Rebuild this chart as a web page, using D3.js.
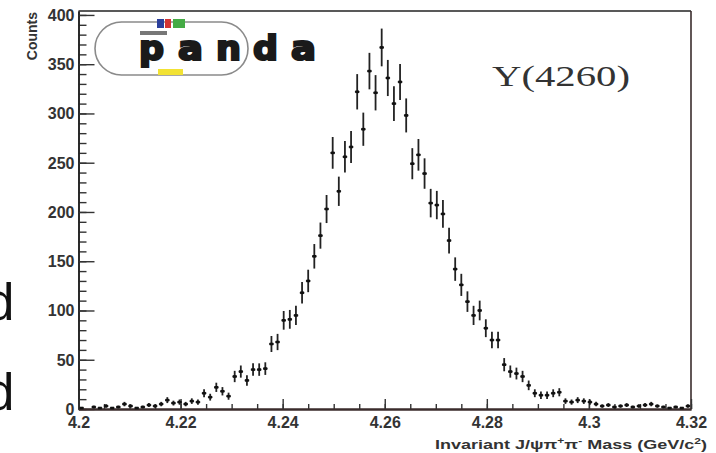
<!DOCTYPE html>
<html>
<head>
<meta charset="utf-8">
<script src="https://cdn.jsdelivr.net/npm/d3@7"></script>
<style>
  html, body { margin: 0; padding: 0; background: #fff; }
  svg { display: block; }
</style>
</head>
<body>
<svg id="chart" width="716" height="453"></svg>
<script>
// ---- data (histogram: 100 bins from 4.2 to 4.32 GeV/c^2) ----
const massMin = 4.2;
const massMax = 4.32;
const nBins = 100;
const counts = [
  1, 0, 2, 1, 3, 1, 2, 5, 3, 1, 2, 4, 3, 5, 9, 6, 7, 5, 8, 7,
  16, 12, 22, 18, 13, 33, 38, 29, 40, 40, 41, 66, 68, 90, 91, 95,
  118, 130, 155, 176, 203, 260, 221, 256, 266, 322, 284, 343, 321, 367, 336, 310, 332, 298,
  249, 258, 239, 209, 207, 198, 171, 142, 126, 109, 95, 100, 82, 70, 70, 45, 38, 36, 33, 24, 16, 14, 14, 16, 17,
  8, 7, 9, 8, 7, 5, 3, 4, 2, 3, 4, 2, 3, 4, 5, 3, 2, 1, 2, 1, 3
];
const xMajorTicks = [4.2, 4.22, 4.24, 4.26, 4.28, 4.3, 4.32];
const xTickLabels = ["4.2", "4.22", "4.24", "4.26", "4.28", "4.3", "4.32"];
const yMajorTicks = [0, 50, 100, 150, 200, 250, 300, 350, 400];
const yMax = 404;
const logoLetters = ["p", "a", "n", "d", "a"];

const svg = d3.select("#chart");
const pL = 78.5, pR = 691, pT = 11, pB = 409;

const x = d3.scaleLinear().domain([massMin, massMax]).range([pL, pR]);
const y = d3.scaleLinear().domain([0, yMax]).range([pB, pT]);

const binW = (massMax - massMin) / nBins;
const bins = counts.map((c, i) => ({
  lo: massMin + i * binW,
  hi: massMin + (i + 1) * binW,
  mid: massMin + (i + 0.5) * binW,
  n: c,
  err: Math.sqrt(c)
}));

// ---- slide residue on the left ("d" letters) ----
svg.selectAll("text.slide").data([320, 410]).enter().append("text")
  .attr("class", "slide")
  .attr("x", -14).attr("y", d => d)
  .attr("font-family", "Liberation Sans, Arial, sans-serif")
  .attr("font-size", 51)
  .attr("fill", "#111")
  .text("d");

// ---- frame ----
svg.append("line").attr("x1", pL).attr("x2", pR).attr("y1", pT).attr("y2", pT)
  .attr("stroke", "#222").attr("stroke-width", 1.6);
svg.append("line").attr("x1", pR).attr("x2", pR).attr("y1", pT).attr("y2", pB)
  .attr("stroke", "#3a2c2c").attr("stroke-width", 1.6);

// ---- y axis ----
const yMinor = d3.range(0, 401, 10);
const gyMinor = svg.append("g").attr("transform", `translate(${pL},0)`)
  .call(d3.axisLeft(y).tickValues(yMinor).tickSize(-8).tickSizeOuter(0).tickFormat(""));
const gy = svg.append("g").attr("transform", `translate(${pL},0)`)
  .call(d3.axisLeft(y).tickValues(yMajorTicks).tickSize(-16).tickSizeOuter(0).tickPadding(4));
[gyMinor, gy].forEach(g => {
  g.select(".domain").attr("stroke", "#222").attr("stroke-width", 1.6);
  g.selectAll(".tick line").attr("stroke", "#333").attr("stroke-width", 1.4);
});
gy.selectAll(".tick text")
  .attr("font-family", "Liberation Sans, Arial, sans-serif")
  .attr("font-weight", "bold").attr("font-size", 16).attr("fill", "#333")
  .attr("dy", "0.34em");

// ---- x axis ----
const xMinor = d3.range(0, 25).map(k => massMin + k * 0.005);
const gxMinor = svg.append("g").attr("transform", `translate(0,${pB})`)
  .call(d3.axisBottom(x).tickValues(xMinor).tickSize(-5).tickSizeOuter(0).tickFormat(""));
const gx = svg.append("g").attr("transform", `translate(0,${pB})`)
  .call(d3.axisBottom(x).tickValues(xMajorTicks).tickSize(-10).tickSizeOuter(0).tickPadding(8)
    .tickFormat((d, i) => xTickLabels[i]));
[gxMinor, gx].forEach(g => {
  g.select(".domain").attr("stroke", "#3a2c2c").attr("stroke-width", 1.8);
  g.selectAll(".tick line").attr("stroke", "#333").attr("stroke-width", 1.4);
});
gx.selectAll(".tick text")
  .attr("font-family", "Liberation Sans, Arial, sans-serif")
  .attr("font-weight", "bold").attr("font-size", 16).attr("fill", "#333")
  .attr("dy", "0.71em");

// ---- axis titles ----
svg.append("text")
  .attr("transform", `translate(37,12) rotate(-90)`)
  .attr("text-anchor", "end")
  .attr("font-family", "Liberation Sans, Arial, sans-serif")
  .attr("font-weight", "bold").attr("font-size", 14).attr("fill", "#333")
  .text("Counts");

const xt = svg.append("text")
  .attr("font-family", "Liberation Sans, Arial, sans-serif")
  .attr("font-weight", "bold").attr("font-size", 13.5).attr("fill", "#333");
xt.append("tspan").text("Invariant J/ψπ");
xt.append("tspan").attr("font-size", 9).attr("dy", -5).text("+");
xt.append("tspan").attr("dy", 5).text("π");
xt.append("tspan").attr("font-size", 9).attr("dy", -5).text("-");
xt.append("tspan").attr("dy", 5).text(" Mass (GeV/c");
xt.append("tspan").attr("font-size", 9).attr("dy", -5).text("2");
xt.append("tspan").attr("dy", 5).text(")");
{
  const w = xt.node().getComputedTextLength();
  const target = 707 - 435;
  const s = target / w;
  xt.attr("transform", `translate(435,449) scale(${s},1)`);
}

// ---- data points with error bars ----
const pts = svg.append("g").selectAll("g.pt").data(bins.filter(b => b.n > 0)).enter()
  .append("g").attr("class", "pt");
pts.append("line")
  .attr("x1", d => x(d.mid)).attr("x2", d => x(d.mid))
  .attr("y1", d => y(d.n - d.err)).attr("y2", d => y(d.n + d.err))
  .attr("stroke", "#222").attr("stroke-width", 1.8);
pts.append("line")
  .attr("x1", d => x(d.lo) + 0.8).attr("x2", d => x(d.hi) - 0.8)
  .attr("y1", d => y(d.n)).attr("y2", d => y(d.n))
  .attr("stroke", "#222").attr("stroke-width", 1.7);
pts.append("rect")
  .attr("x", d => x(d.mid) - 1.8).attr("y", d => y(d.n) - 1.3)
  .attr("width", 3.6).attr("height", 2.6)
  .attr("fill", "#111");

// ---- PANDA logo ----
const logo = svg.append("g");
logo.append("rect").attr("x", 95).attr("y", 22).attr("width", 153).attr("height", 53)
  .attr("rx", 26.5).attr("ry", 26.5)
  .attr("fill", "none").attr("stroke", "#8a8a8a").attr("stroke-width", 1.6);
logo.append("rect").attr("x", 140).attr("y", 31).attr("width", 27).attr("height", 4).attr("fill", "#777");
logo.append("rect").attr("x", 157).attr("y", 19).attr("width", 7).attr("height", 9).attr("fill", "#2b3f9c");
logo.append("rect").attr("x", 165).attr("y", 19).attr("width", 6).attr("height", 9).attr("fill", "#d23434");
logo.append("rect").attr("x", 173).attr("y", 19).attr("width", 12).attr("height", 9).attr("fill", "#45ab45");
logo.append("rect").attr("x", 158).attr("y", 69).attr("width", 25).attr("height", 6).attr("fill", "#f2e234");
const letterX = [139, 178, 216, 253, 291];
logo.selectAll("text.lg").data(logoLetters).enter().append("text")
  .attr("class", "lg")
  .attr("x", (d, i) => letterX[i]).attr("y", 60)
  .attr("font-family", "DejaVu Sans, sans-serif").attr("font-weight", "bold")
  .attr("font-size", 33).attr("fill", "#1a1a1a")
  .attr("stroke", "#1a1a1a").attr("stroke-width", 2.2).attr("stroke-linejoin", "miter")
  .attr("textLength", 25).attr("lengthAdjust", "spacingAndGlyphs")
  .text(d => d);

// ---- label ----
svg.append("text").attr("x", 492).attr("y", 86)
  .attr("font-family", "Liberation Serif, DejaVu Serif, serif")
  .attr("font-size", 30).attr("fill", "#333")
  .attr("textLength", 138).attr("lengthAdjust", "spacingAndGlyphs")
  .text("Y(4260)");
</script>
</body>
</html>
